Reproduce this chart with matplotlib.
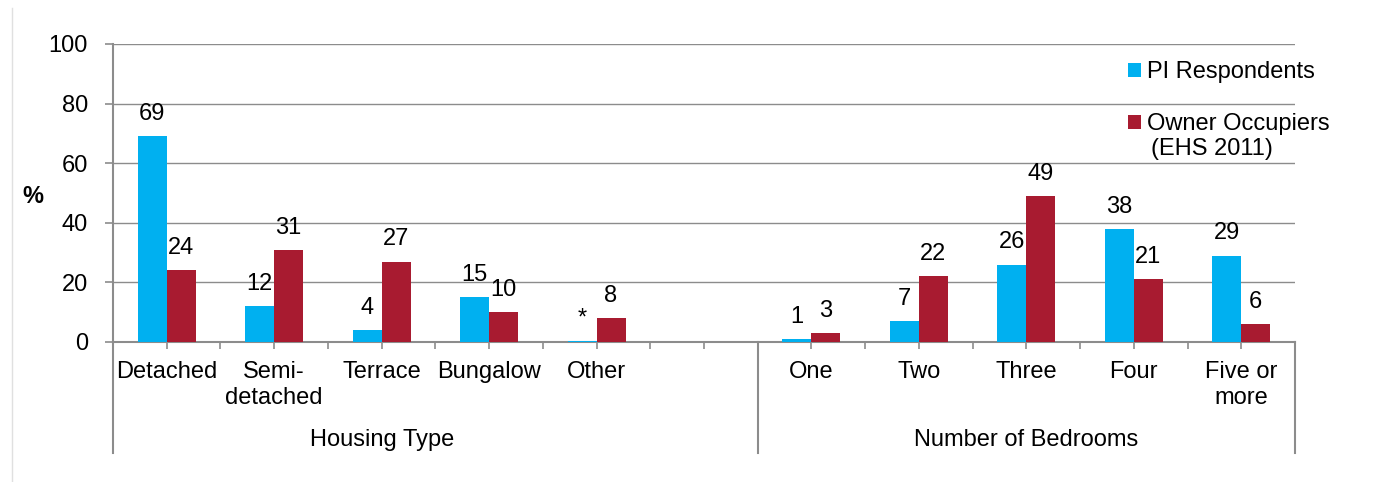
import numpy as np
import matplotlib.pyplot as plt
import matplotlib.transforms as mtransforms

plt.rcParams['font.family'] = ['Liberation Sans', 'DejaVu Sans']

# Data
categories = ['Detached', 'Semi-\ndetached', 'Terrace', 'Bungalow', 'Other', '',
              'One', 'Two', 'Three', 'Four', 'Five or\nmore']
pi_resp = [69, 12, 4, 15, 0.5, np.nan, 1, 7, 26, 38, 29]
owner_occ = [24, 31, 27, 10, 8, np.nan, 3, 22, 49, 21, 6]
pi_labels = ['69', '12', '4', '15', '*', '', '1', '7', '26', '38', '29']
owner_labels = ['24', '31', '27', '10', '8', '', '3', '22', '49', '21', '6']
groups = ['Housing Type', 'Number of Bedrooms']
series_names = ['PI Respondents', 'Owner Occupiers']
series_note = '(EHS 2011)'

blue = '#00B0F0'
red = '#A81B30'
grey = '#8C8C8C'
fs = 17

fig = plt.figure(figsize=(13.76, 4.82), dpi=100)
ax = fig.add_axes([113/1376, 1-342/482, (1295-113)/1376, (342-44)/482])

x = np.arange(len(categories))
w = 0.27
b1 = ax.bar(x - w/2, pi_resp, w, color=blue, label=series_names[0], zorder=3)
b2 = ax.bar(x + w/2, owner_occ, w, color=red, label=series_names[1], zorder=3)

for bars, labs in [(b1, pi_labels), (b2, owner_labels)]:
    for rect, lab in zip(bars, labs):
        if lab == '':
            continue
        ax.annotate(lab, (rect.get_x() + rect.get_width()/2, rect.get_height()),
                    xytext=(0, 8), textcoords='offset points',
                    ha='center', va='bottom', fontsize=fs)

ax.set_xlim(-0.5, len(categories) - 0.5)
ax.set_ylim(0, 100)
ax.set_yticks(np.arange(0, 101, 20))
ax.tick_params(axis='y', labelsize=fs, length=6, color=grey, width=1.2, pad=12)
ax.yaxis.grid(True, color=grey, linewidth=1.0, zorder=0)
ax.set_axisbelow(True)

# category labels on the major ticks, small marks at every half slot
ax.set_xticks(x)
ax.set_xticklabels(categories, fontsize=fs, va='top', linespacing=1.27)
ax.tick_params(axis='x', length=5, color=grey, width=1.2, pad=8.5)
ax.set_xticks(np.arange(0.5, len(categories) - 0.5, 1.0), minor=True)
ax.tick_params(axis='x', which='minor', length=5, color=grey, width=1.2)

# group separators below the axis
trans = mtransforms.blended_transform_factory(ax.transData, ax.transAxes)
for xs in [-0.5, 5.5, len(categories) - 0.5]:
    ax.plot([xs, xs], [0, -0.372], color=grey, lw=1.5, transform=trans, clip_on=False)

ax.text(2.0, -0.33, groups[0], transform=trans, ha='center', va='center', fontsize=fs)
ax.text(8.0, -0.33, groups[1], transform=trans, ha='center', va='center', fontsize=fs)

for s in ['top', 'right']:
    ax.spines[s].set_visible(False)
for s in ['left', 'bottom']:
    ax.spines[s].set_color(grey)
    ax.spines[s].set_linewidth(1.5)

ax.set_ylabel('%', rotation=0, fontsize=fs, fontweight='bold', va='center', ha='center')
ax.yaxis.set_label_coords(-0.068, 0.487)

leg = ax.legend(loc='upper left', bbox_to_anchor=(0.859, 0.943), frameon=False,
                fontsize=fs, handlelength=0.55, handleheight=0.55,
                handletextpad=0.25, labelspacing=1.27, borderaxespad=0, borderpad=0)
ax.annotate(series_note, xy=(0, 0), xycoords=leg.get_texts()[1],
            xytext=(2.5, -2), textcoords='offset points', ha='left', va='top',
            fontsize=fs, zorder=6)

# faint chart frame on the left
fig.add_artist(plt.Line2D([12/1376, 12/1376], [0, 1-8/482], color='#E0E0E0', lw=1))

fig.savefig('out.png', dpi=100)
